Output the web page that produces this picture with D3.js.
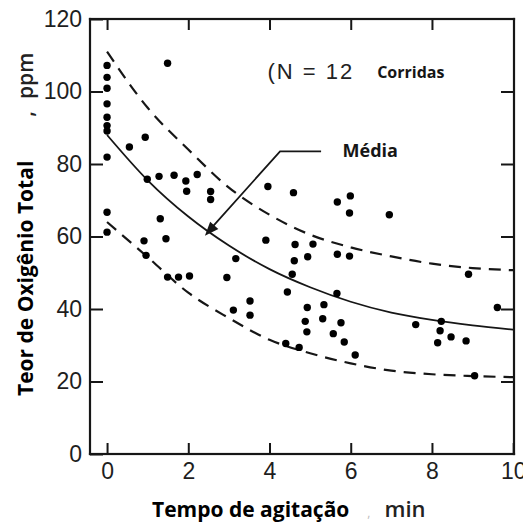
<!DOCTYPE html>
<html>
<head>
<meta charset="utf-8">
<script src="https://cdn.jsdelivr.net/npm/d3@7"></script>
<style>
  body { margin: 0; background: #fff; }
  svg { display: block; }
</style>
</head>
<body>
<div id="chart"></div>
<script>
// Measured points: time (min) and oxygen content (ppm)
const timeMin = [
  0, 0, 0, 0, 0, 0, 0, 0, 0, 0,
  0.55, 0.94, 0.99, 1.28, 1.49, 1.65, 1.94, 1.96, 2.22, 2.55, 2.55,
  1.31, 1.45, 0.91, 0.96, 3.17, 1.49, 1.76, 2.03, 2.95,
  3.96, 4.59, 5.67, 5.99, 5.97, 3.91, 4.63, 5.07, 4.94, 4.61, 5.67, 5.97,
  4.56, 4.44, 5.66, 3.52, 3.11, 3.52, 4.93, 5.34, 5.31, 4.88, 5.76, 4.92,
  5.57, 5.84, 4.40, 4.73, 6.11,
  6.95, 8.90, 9.61, 7.60, 8.23, 8.20, 8.47, 8.84, 8.14, 9.05
]
const oxygenPpm = [
  107.2, 103.9, 100.9, 96.6, 92.9, 90.6, 89.1, 81.9, 66.7, 61.2,
  84.7, 87.4, 75.8, 76.6, 107.8, 76.9, 75.3, 72.5, 77.1, 72.4, 70.2,
  64.9, 59.4, 58.8, 54.8, 53.9, 48.8, 48.8, 49.1, 48.7,
  73.8, 72.1, 69.5, 71.2, 66.5, 59.0, 57.8, 57.9, 54.4, 53.3, 55.1, 54.6,
  49.6, 44.7, 44.3, 42.2, 39.7, 38.3, 40.4, 41.2, 37.3, 36.6, 36.2, 33.7,
  33.2, 30.9, 30.5, 29.4, 27.3,
  66.0, 49.6, 40.4, 35.7, 36.6, 34.0, 32.3, 31.2, 30.7, 21.6
]

// Curves at whole minutes
const curveX = [0, 1, 2, 3, 4, 5, 6, 7, 8, 9, 10]
const meanCurve = [88, 75.5, 65.5, 57.5, 51, 46, 42, 39, 37, 35.5, 34.3]
const upperCurve = [111, 95.5, 84, 73.5, 66, 60.5, 57, 54.5, 52.5, 51.3, 50.7]
const lowerCurve = [64, 54.3, 44.5, 37.5, 31.5, 27.8, 25, 23, 22, 21.5, 21.2]

// Tick labels
const xTicks = [0, 2, 4, 6, 8, 10]
const yTicks = [0, 20, 40, 60, 80, 100, 120]

// Dimensions
const margin = { top: 19, right: 9, bottom: 70, left: 90 }
const width = 523
const height = 524
const innerWidth = width - margin.left - margin.right
const innerHeight = height - margin.top - margin.bottom

const svg = d3.select('#chart')
  .append('svg')
  .attr('width', width)
  .attr('height', height)

const g = svg.append('g')
  .attr('transform', `translate(${margin.left}, ${margin.top})`)

const x = d3.scaleLinear().domain([-0.42, 10.02]).range([0, innerWidth])
const y = d3.scaleLinear().domain([0, 120]).range([innerHeight, 0])

const tickFont = '"Liberation Sans", Arial, sans-serif'
const boldFont = '"Open Sans", "Noto Sans", sans-serif'
const ink = '#161616'

// Frame as four thin filled bars
const lw = 2.2
const frameBars = [
  [-lw / 2, -lw / 2, innerWidth + lw, lw],
  [-lw / 2, innerHeight - lw / 2, innerWidth + lw, lw],
  [-lw / 2, -lw / 2, lw, innerHeight + lw],
  [innerWidth - lw / 2, -lw / 2, lw, innerHeight + lw]
]
g.selectAll('rect.frame')
  .data(frameBars)
  .join('rect')
  .attr('class', 'frame')
  .attr('x', d => d[0])
  .attr('y', d => d[1])
  .attr('width', d => d[2])
  .attr('height', d => d[3])
  .attr('fill', ink)

// Axes with inward ticks on all four sides; tick lines become filled bars
function barTicks(axisG) {
  axisG.select('.domain').remove()
  axisG.selectAll('.tick').each(function () {
    const tick = d3.select(this)
    const ln = tick.select('line')
    const x2 = +ln.attr('x2') || 0
    const y2 = +ln.attr('y2') || 0
    tick.insert('rect', 'text')
      .attr('x', x2 ? Math.min(0, x2) : -1)
      .attr('y', y2 ? Math.min(0, y2) : -1)
      .attr('width', x2 ? Math.abs(x2) : 2)
      .attr('height', y2 ? Math.abs(y2) : 2)
      .attr('fill', ink)
    ln.remove()
  })
  axisG.selectAll('.tick text')
    .attr('fill', '#1e1e1e')
    .style('font-family', tickFont)
    .style('font-size', '23px')
}

g.append('g')
  .attr('transform', `translate(0, ${innerHeight})`)
  .call(d3.axisBottom(x).tickValues(xTicks).tickSize(-11).tickPadding(9).tickFormat(d3.format('d')))
  .call(barTicks)
g.append('g')
  .call(d3.axisTop(x).tickValues(xTicks.slice(0, 5)).tickSize(-11).tickFormat(''))
  .call(barTicks)
g.append('g')
  .call(d3.axisLeft(y).tickValues(yTicks).tickSize(-13).tickPadding(8).tickFormat(d3.format('d')))
  .call(barTicks)
g.append('g')
  .attr('transform', `translate(${innerWidth}, 0)`)
  .call(d3.axisRight(y).tickValues(yTicks.slice(1, 6)).tickSize(-13).tickFormat(''))
  .call(barTicks)

// Curves
const curveLine = d3.line()
  .x((d, i) => x(curveX[i]))
  .y(d => y(d))
  .curve(d3.curveMonotoneX)

g.append('path')
  .datum(upperCurve)
  .attr('fill', 'none')
  .attr('stroke', ink)
  .attr('stroke-width', 2.2)
  .attr('stroke-dasharray', '12,8')
  .attr('d', curveLine)

g.append('path')
  .datum(lowerCurve)
  .attr('fill', 'none')
  .attr('stroke', ink)
  .attr('stroke-width', 2.2)
  .attr('stroke-dasharray', '12,8')
  .attr('d', curveLine)

g.append('path')
  .datum(meanCurve)
  .attr('fill', 'none')
  .attr('stroke', ink)
  .attr('stroke-width', 1.8)
  .attr('d', curveLine)

// Points
g.selectAll('circle.pt')
  .data(timeMin)
  .join('circle')
  .attr('class', 'pt')
  .attr('cx', d => x(d))
  .attr('cy', (d, i) => y(oxygenPpm[i]))
  .attr('r', 3.7)
  .attr('fill', '#000')

// "Média" pointer, arrowhead drawn as a small triangle at the tip
const pointer = [[5.27, 83.5], [4.26, 83.5], [2.41, 60.2]]
const tip = [x(pointer[2][0]), y(pointer[2][1])]
const from = [x(pointer[1][0]), y(pointer[1][1])]
const ang = Math.atan2(tip[1] - from[1], tip[0] - from[0]) * 180 / Math.PI

g.append('path')
  .datum(pointer.slice(0, 2).concat([[2.6, 62.7]]))
  .attr('fill', 'none')
  .attr('stroke', ink)
  .attr('stroke-width', 1.8)
  .attr('d', d3.line().x(d => x(d[0])).y(d => y(d[1])))

g.append('path')
  .attr('transform', `translate(${tip[0]}, ${tip[1]}) rotate(${ang})`)
  .attr('d', 'M0,0L-14,-5.5L-14,5.5Z')
  .attr('fill', ink)

g.append('text')
  .attr('x', x(5.8))
  .attr('y', y(83.5) + 6)
  .attr('fill', ink)
  .style('font-family', boldFont)
  .style('font-weight', 700)
  .style('font-size', '18px')
  .text('Média')

// Run count note
g.append('text')
  .attr('x', x(3.95))
  .attr('y', y(103.5))
  .attr('fill', '#222')
  .style('font-family', tickFont)
  .style('font-size', '22px')
  .style('letter-spacing', '2px')
  .text('(N = 12')

g.append('text')
  .attr('x', x(6.65))
  .attr('y', y(103.8))
  .attr('fill', ink)
  .style('font-family', boldFont)
  .style('font-weight', 700)
  .style('font-size', '16px')
  .text('Corridas')

// Axis titles
const xTitle = svg.append('text')
  .attr('x', 152)
  .attr('y', 517)
  .attr('fill', '#000')
  .style('font-family', boldFont)
  .style('font-size', '21px')
xTitle.append('tspan').style('font-weight', 700).text('Tempo de agitação')
xTitle.append('tspan').attr('dx', 18).attr('fill', '#bbb').style('font-size', '12px').text(',')
xTitle.append('tspan').attr('dx', 14).attr('fill', '#222').style('font-weight', 600).style('font-size', '22px').text('min')

const yTitle = svg.append('text')
  .attr('transform', 'translate(33, 396) rotate(-90)')
  .attr('fill', '#000')
  .style('font-family', boldFont)
  .style('font-size', '21px')
yTitle.append('tspan').style('font-weight', 700).text('Teor de Oxigênio Total')
yTitle.append('tspan').attr('dx', 44).attr('fill', '#222').style('font-weight', 600).text(',')
yTitle.append('tspan').attr('dx', 12).attr('fill', '#222').style('font-weight', 600).text('ppm')
</script>
</body>
</html>
